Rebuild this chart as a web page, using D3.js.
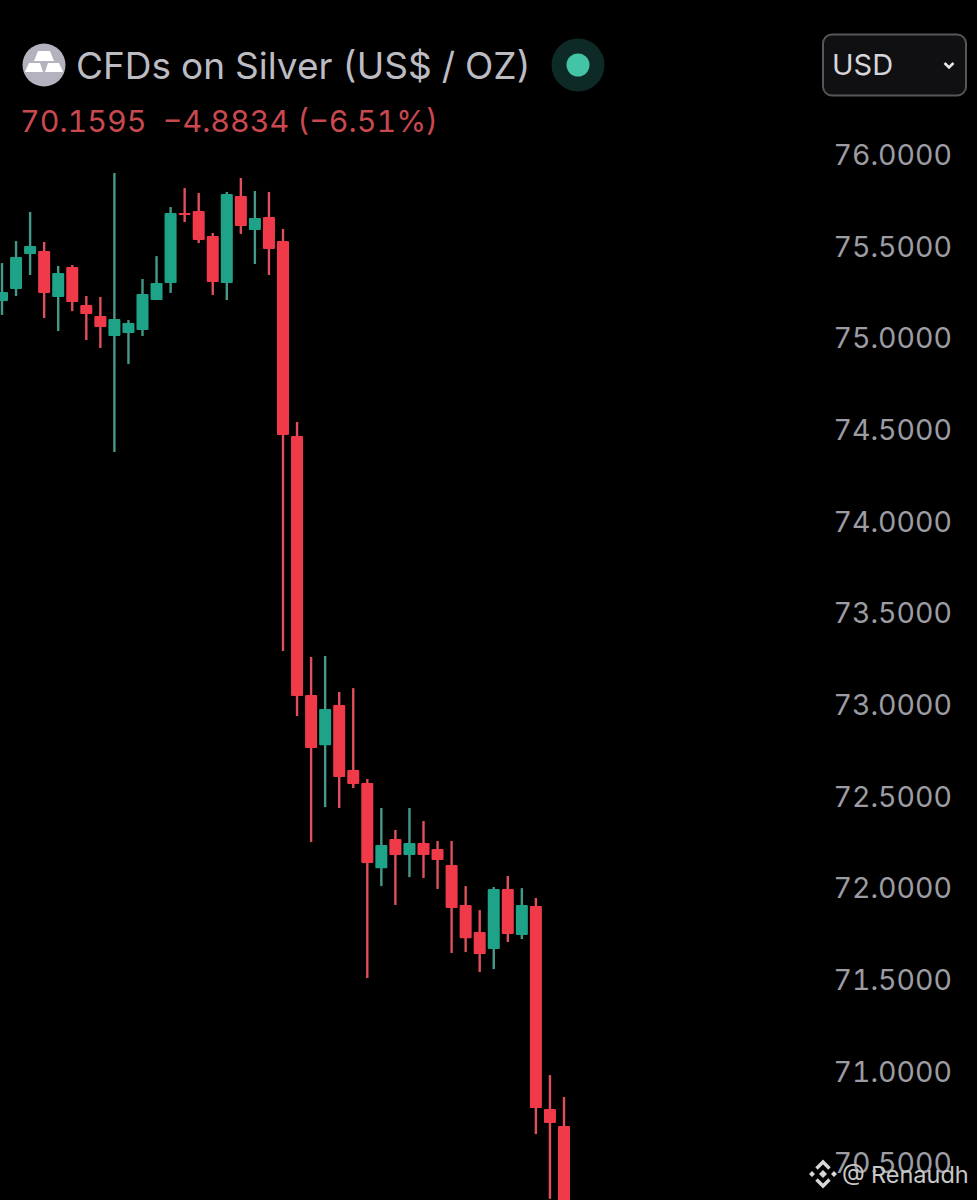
<!DOCTYPE html>
<html><head><meta charset="utf-8">
<script src="https://cdn.jsdelivr.net/npm/d3@7/dist/d3.min.js"></script>
<style>html,body{margin:0;padding:0;background:#000;overflow:hidden}svg{display:block}text{font-family:Inter,Roboto,sans-serif;font-variant-numeric:tabular-nums}</style>
</head><body><svg id="c" width="977" height="1200"></svg>
<script>
const title = "CFDs on Silver (US$ / OZ)";
const quote = "70.1595  \u22124.8834 (\u22126.51%)";
const currency = "USD";
const watermark = "@ Renaudh";
const tickValues = [76,75.5,75,74.5,74,73.5,73,72.5,72,71.5,71,70.5];
const opens = [75.198,75.263,75.454,75.471,75.220,75.383,75.176,75.116,75.007,75.023,75.040,75.203,75.296,75.678,75.689,75.553,75.296,75.771,75.585,75.656,75.525,74.461,73.048,72.775,72.994,72.639,72.568,72.104,72.263,72.175,72.241,72.208,72.121,71.903,71.755,71.663,71.990,71.739,71.897,70.790,70.697];
const highs = [75.405,75.525,75.684,75.520,75.389,75.394,75.225,75.220,75.896,75.094,75.318,75.443,75.711,75.814,75.787,75.569,75.793,75.869,75.798,75.793,75.591,74.538,73.256,73.261,73.065,73.086,72.590,72.432,72.312,72.432,72.361,72.252,72.252,72.006,71.875,72.001,72.061,71.995,71.941,70.975,70.855];
const lows = [75.122,75.225,75.340,75.105,75.034,75.143,74.985,74.942,74.374,74.854,75.007,75.203,75.242,75.629,75.514,75.231,75.203,75.564,75.400,75.340,73.288,72.934,72.246,72.437,72.432,72.541,71.504,72.006,71.903,72.055,72.050,71.990,71.641,71.646,71.537,71.553,71.701,71.717,70.653,70.300,70.100];
const closes = [75.247,75.438,75.498,75.242,75.351,75.193,75.127,75.056,75.100,75.078,75.236,75.296,75.678,75.667,75.531,75.302,75.782,75.607,75.651,75.482,74.467,73.043,72.759,72.972,72.601,72.563,72.132,72.230,72.175,72.241,72.175,72.148,71.886,71.722,71.635,71.990,71.744,71.903,70.795,70.713,70.160];

const svg = d3.select("#c");
svg.append("rect").attr("width",977).attr("height",1200).attr("fill","#000");
const x = d3.scaleLinear().domain([0,40]).range([2,564]);
const y = d3.scaleLinear().domain([70,76]).range([154+6*183.3,154]);
const UP="#1fa388", DOWN="#f03a4a", UPW="#46998a", DOWNW="#e0505c";
const candles = d3.range(opens.length).map(i=>({i,o:opens[i],h:highs[i],l:lows[i],c:closes[i]}));
const g = svg.append("g");
g.selectAll("line.w").data(candles).join("line").attr("class","w")
 .attr("x1",d=>x(d.i)).attr("x2",d=>x(d.i)).attr("y1",d=>y(d.h)).attr("y2",d=>y(d.l))
 .attr("stroke",d=>d.c>=d.o?UPW:DOWNW).attr("stroke-width",2.4);
g.selectAll("rect.b").data(candles).join("rect").attr("class","b")
 .attr("x",d=>x(d.i)-6).attr("width",12)
 .attr("y",d=>y(Math.max(d.o,d.c))).attr("height",d=>Math.abs(y(d.o)-y(d.c)))
 .attr("rx",1).attr("fill",d=>d.c>=d.o?UP:DOWN);

const axis = d3.axisRight(y).tickValues(tickValues).tickFormat(d3.format(".4f")).tickSize(0).tickPadding(0);
const ag = svg.append("g").attr("transform","translate(952,0)").call(axis);
ag.select(".domain").remove();
ag.selectAll("text").attr("text-anchor","end").attr("x",0).attr("dy",0).attr("dominant-baseline","central")
  .attr("fill","#9c9ca2").style("font-size","28.5px").style("font-family","Inter,Roboto,sans-serif").style("font-variant-numeric","tabular-nums");

// header
const ic = svg.append("g").attr("transform","translate(44,65)");
ic.append("circle").attr("r",21.5).attr("fill","#b4b2be");
[[[-6,-14],[6,-14],[10,-4],[-10,-4]],[[-15,-2],[-4,-2],[-1,7],[-19,7]],[[4,-2],[15,-2],[19,7],[1,7]]].forEach(p=>
  ic.append("polygon").attr("points",p.join(" ")).attr("fill","#fff"));
svg.append("text").attr("x",76).attr("y",79).attr("fill","#bcbcc2").style("font-size","37px").text(title);
svg.append("circle").attr("cx",578).attr("cy",65).attr("r",26.5).attr("fill","#0e2a27");
svg.append("circle").attr("cx",578).attr("cy",65).attr("r",11.5).attr("fill","#43c4a6");
svg.append("text").attr("x",20).attr("y",132).attr("fill","#c9494f").style("font-size","30.4px").style("white-space","pre").text(quote);

svg.append("rect").attr("x",823).attr("y",34.5).attr("width",143).attr("height",61).attr("rx",9)
  .attr("fill","#101012").attr("stroke","#56565a").attr("stroke-width",2);
svg.append("text").attr("x",832).attr("y",75).attr("fill","#d6d6da").style("font-size","29px").text(currency);
svg.append("path").attr("d","M944.5,63 L949,67.5 L953.5,63").attr("fill","none").attr("stroke","#e6e6e6").attr("stroke-width",2.6);

// watermark
const wm = svg.append("g").attr("transform","translate(823,1174)").attr("fill","#d8d8d8");
const dm=(cx,cy,r)=>`M${cx},${cy-r}L${cx+r},${cy}L${cx},${cy+r}L${cx-r},${cy}Z`;
wm.append("path").attr("d",dm(-11,0,3)+dm(11,0,3)+dm(0,0,4));
wm.append("path").attr("fill","none").attr("stroke","#d8d8d8").attr("stroke-width",3.4)
  .attr("d","M-6.5,-5.5 L0,-12 L6.5,-5.5 M-6.5,5.5 L0,12 L6.5,5.5");
svg.append("text").attr("x",842).attr("y",1183).attr("fill","#c8c8c8").style("font-size","23.5px").text(watermark);
</script></body></html>
